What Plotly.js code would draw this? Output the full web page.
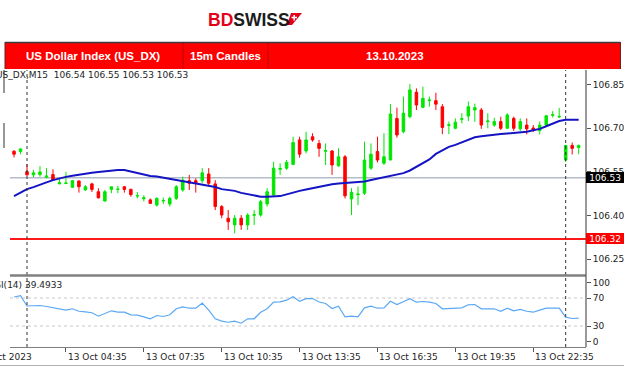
<!DOCTYPE html>
<html><head><meta charset="utf-8">
<script src="https://cdn.plot.ly/plotly-3.0.1.min.js"></script>
<style>html,body{margin:0;padding:0;background:#fff;overflow:hidden}#chart{width:624px;height:367px}</style>
</head><body><div id="chart"></div>
<script>
// ---- data ----
const open=[106.621,106.620,106.551,106.540,106.541,106.532,106.541,106.509,106.510,106.497,
106.519,106.488,106.509,106.482,106.450,106.490,106.490,106.499,106.490,106.467,
106.458,106.454,106.436,106.450,106.440,106.459,106.488,106.520,106.520,106.520,
106.543,106.509,106.431,106.391,106.368,106.391,106.368,106.401,106.402,106.440,
106.471,106.559,106.563,106.576,106.660,106.622,106.671,106.648,106.621,106.622,
106.571,106.602,106.457,106.472,106.477,106.563,106.620,106.580,106.591,106.734,
106.688,106.740,106.824,106.772,106.795,106.795,106.774,106.710,106.700,106.731,
106.742,106.763,106.763,106.723,106.711,106.723,106.700,106.734,106.698,106.711,
106.701,106.692,106.711,106.745,106.739,106.591,106.641,106.634];
const high=[106.625,106.631,106.577,106.557,106.570,106.563,106.559,106.527,106.550,106.522,
106.521,106.505,106.513,106.494,106.488,106.499,106.502,106.501,106.493,106.481,
106.470,106.459,106.463,106.462,106.465,106.505,106.534,106.540,106.528,106.563,
106.563,106.522,106.436,106.419,106.402,106.402,106.408,106.419,106.454,106.494,
106.585,106.580,106.591,106.671,106.671,106.688,106.683,106.660,106.648,106.625,
106.631,106.608,106.494,106.500,106.654,106.648,106.671,106.683,106.783,106.771,
106.809,106.852,106.837,106.843,106.809,106.822,106.783,106.723,106.734,106.752,
106.792,106.785,106.770,106.752,106.736,106.740,106.752,106.740,106.734,106.734,
106.711,106.723,106.746,106.759,106.770,106.643,106.651,106.644];
const low=[106.600,106.611,106.537,106.532,106.534,106.528,106.519,106.508,106.509,106.497,
106.479,106.486,106.481,106.459,106.448,106.477,106.477,106.479,106.465,106.459,
106.449,106.440,106.431,106.440,106.431,106.454,106.482,106.488,106.479,106.511,
106.502,106.419,106.391,106.351,106.339,106.351,106.351,106.368,106.396,106.431,
106.465,106.540,106.557,106.574,106.599,106.614,106.654,106.602,106.574,106.540,
106.568,106.459,106.402,106.436,106.471,106.557,106.583,106.574,106.591,106.668,
106.683,106.734,106.763,106.769,106.774,106.763,106.680,106.680,106.697,106.717,
106.725,106.722,106.698,106.700,106.705,106.694,106.698,106.691,106.691,106.679,
106.687,106.679,106.708,106.737,106.735,106.584,106.610,106.611];
const close=[106.611,106.629,106.540,106.547,106.550,106.536,106.522,106.513,106.512,106.520,
106.499,106.499,106.490,106.461,106.482,106.499,106.491,106.490,106.472,106.469,
106.461,106.442,106.459,106.452,106.459,106.499,106.522,106.511,106.511,106.547,
106.511,106.431,106.402,106.379,106.391,106.368,106.402,106.403,106.448,106.482,
106.563,106.562,106.583,106.651,106.611,106.660,106.660,106.631,106.623,106.574,
106.602,106.468,106.480,106.474,106.591,106.611,106.591,106.602,106.749,106.677,
106.752,106.832,106.780,106.803,106.797,106.783,106.703,106.712,106.721,106.733,
106.774,106.771,106.711,106.725,106.723,106.700,106.746,106.700,106.723,106.698,
106.694,106.711,106.743,106.747,106.741,106.641,106.631,106.641];
const ma=[106.467,106.479,106.491,106.498,106.505,106.514,106.522,106.528,106.533,106.537,
106.541,106.544,106.547,106.550,106.553,106.556,106.557,106.557,106.552,106.547,
106.541,106.536,106.534,106.530,106.526,106.523,106.520,106.516,106.512,106.507,
106.502,106.498,106.491,106.489,106.485,106.478,106.473,106.469,106.465,106.465,
106.465,106.467,106.473,106.480,106.485,106.490,106.495,106.500,106.504,106.508,
106.510,106.512,106.513,106.514,106.517,106.522,106.527,106.531,106.535,106.540,
106.546,106.555,106.568,106.579,106.593,106.612,106.623,106.636,106.643,106.652,
106.660,106.669,106.673,106.676,106.678,106.680,106.682,106.684,106.686,106.688,
106.693,106.698,106.707,106.715,106.725,106.729,106.729,106.729];
const rsi=[71.4,73.3,58.6,59.3,59.3,57.9,56.0,53.6,52.6,54.6,
51.1,50.3,48.9,44.0,47.4,51.7,49.7,49.7,46.0,45.4,
43.1,40.3,45.0,43.6,46.0,54.6,57.4,55.4,55.4,62.6,
52.6,40.3,36.9,35.4,36.9,34.0,40.3,40.3,49.7,54.6,
64.0,64.6,66.9,71.7,65.4,69.0,69.3,64.3,62.1,55.0,
58.3,43.1,44.0,43.1,56.0,58.3,55.4,56.0,65.4,60.7,
64.6,68.9,64.0,65.0,64.0,62.1,54.6,55.4,55.4,56.0,
60.3,60.7,54.6,54.6,54.6,51.1,55.4,51.7,53.6,51.1,
49.7,52.6,55.4,55.4,55.4,42.6,40.7,41.2];
const priceTicks=[106.25,106.40,106.55,106.70,106.85];
const rsiTickVals=[7.5,30,70,92];
const rsiTickText=['0','30','70','100'];
const rsiLevels=[30,70];
const bidLevel=106.53, redLevel=106.32;
const separators=[2,85];
const timeLabels=['13 Oct 2023','13 Oct 04:35','13 Oct 07:35','13 Oct 10:35','13 Oct 13:35','13 Oct 16:35','13 Oct 19:35','13 Oct 22:35'];
const timeLabelIdx=[-6.2,8,20,32,44,56,68,80];
const headerText='US_DX,M15\u00a0\u00a0106.54 106.55 106.53 106.53';
const rsiText='RSI(14)\u00a039.4933';

// ---- layout geometry ----
const W=624,H=367,ML=10,MR=38,MT=70,MB=20;
const PW=W-ML-MR, PH=H-MT-MB;
const px=x=>(x-ML)/PW, py=y=>(H-MB-y)/PH;
const xRange=[-0.62,88.13], yRange=[106.1959,106.9003];
const xp=i=>(i-xRange[0])/(xRange[1]-xRange[0]);
const idx=open.map((_,i)=>i);
const F='DejaVu Sans';

const traces=[
 {type:'candlestick',x:idx,open:open,high:high,low:low,close:close,xaxis:'x',yaxis:'y',
  increasing:{line:{color:'#00e600',width:1},fillcolor:'#00e600'},
  decreasing:{line:{color:'#ff0000',width:1},fillcolor:'#ff0000'},
  whiskerwidth:0,hoverinfo:'skip',showlegend:false},
 {type:'scatter',mode:'lines',x:idx,y:ma,xaxis:'x',yaxis:'y',line:{color:'#1414c4',width:2},hoverinfo:'skip',showlegend:false},
 {type:'scatter',mode:'lines',x:idx,y:rsi,xaxis:'x',yaxis:'y2',line:{color:'#5aa8f5',width:1.2},hoverinfo:'skip',showlegend:false}
];

const shapes=[];
const pline=(x0,y0,x1,y1,color,width,dash)=>shapes.push({type:'line',xref:'paper',yref:'paper',x0:px(x0),y0:py(y0),x1:px(x1),y1:py(y1),line:{color:color,width:width,dash:dash||'solid'}});
shapes.push({type:'line',xref:'x',yref:'y',x0:xRange[0],x1:xRange[1],y0:bidLevel,y1:bidLevel,layer:'below',line:{color:'#b4bccb',width:1.5}});
shapes.push({type:'line',xref:'x',yref:'y',x0:xRange[0],x1:xRange[1],y0:redLevel,y1:redLevel,layer:'below',line:{color:'#ff1a1a',width:2}});
rsiLevels.forEach(v=>shapes.push({type:'line',xref:'paper',yref:'y2',x0:0,x1:1,y0:v,y1:v,layer:'below',line:{color:'#c8c8c8',width:1,dash:'dot'}}));
separators.forEach(s=>shapes.push({type:'line',xref:'paper',yref:'paper',x0:xp(s),x1:xp(s),y0:0,y1:1,line:{color:'#333',width:1,dash:'dot'}}));
pline(10,275.5,586,275.5,'#808080',2.5);
pline(0,365.5,624,365.5,'#b0b0b0',1);
pline(586,70,586,347,'#555',1.2);
pline(4,70,4,93,'#333',1);
pline(4,123,4,148,'#333',1);
shapes.push({type:'rect',xref:'paper',yref:'paper',x0:px(5),x1:px(620),y0:py(69),y1:py(42),fillcolor:'#ff0000',line:{width:0}});
pline(5,42.5,620,42.5,'#3c3c3c',1.5);
pline(5,42,5,69,'#6a2020',1);
pline(620.5,42,620.5,69,'#6a2020',1);
pline(183,43,183,69,'#c00000',1);
pline(268,43,268,69,'#c00000',1);
shapes.push({type:'path',xref:'paper',yref:'paper',fillcolor:'#e3001b',line:{width:0},
 path:'M'+px(287)+','+py(25)+' L'+px(291)+','+py(13)+' L'+px(302)+','+py(13)+' L'+px(292)+','+py(25)+' Z'});
pline(291.5,17.5,297,17.5,'#fff',1.5);
pline(294.2,15,294.2,20.5,'#fff',1.5);

const annotations=[];
const pa=(x,y,text,opts)=>annotations.push(Object.assign({xref:'paper',yref:'paper',x:px(x),y:py(y),text:text,showarrow:false,xanchor:'center',yanchor:'middle',font:{family:F,size:9,color:'#1e1e1e'}},opts||{}));
pa(249,20,'<b><span style="color:#e3001b">BD</span>SWISS</b>',{font:{family:'Liberation Sans Narrow, Liberation Sans, Arial',size:17.5,color:'#1c1c1c'}});
const bf={family:'Liberation Sans, Arial',size:11.5,color:'#ffffff'};
pa(93,56.5,'<b>US Dollar Index (US_DX)</b>',{font:bf});
pa(225,56.5,'<b>15m Candles</b>',{font:bf});
pa(395,56.5,'<b>13.10.2023</b>',{font:bf});
pa(-6,75.5,headerText,{xanchor:'left'});
pa(-13,285,rsiText,{xanchor:'left'});
timeLabels.forEach((t,k)=>annotations.push({xref:'paper',yref:'paper',x:xp(timeLabelIdx[k]),y:py(356.5),text:t,showarrow:false,xanchor:'left',yanchor:'middle',font:{family:F,size:9,color:'#1e1e1e'}}));
annotations.push({xref:'paper',yref:'y',x:1,y:bidLevel,text:'\u00a0'+bidLevel.toFixed(2)+'\u00a0\u00a0',showarrow:false,xanchor:'left',yanchor:'middle',bgcolor:'#000000',borderpad:0.5,borderwidth:0,font:{family:F,size:9,color:'#ffffff'}});
annotations.push({xref:'paper',yref:'y',x:1,y:redLevel,text:'\u00a0'+redLevel.toFixed(2)+'\u00a0\u00a0',showarrow:false,xanchor:'left',yanchor:'middle',bgcolor:'#ff0000',borderpad:0.5,borderwidth:0,font:{family:F,size:9,color:'#ffffff'}});

const layout={
 width:W,height:H,margin:{l:ML,r:MR,t:MT,b:MB,pad:0},
 paper_bgcolor:'#ffffff',plot_bgcolor:'rgba(0,0,0,0)',showlegend:false,boxgap:0.45,
 xaxis:{domain:[0,1],range:xRange,anchor:'y2',showgrid:false,zeroline:false,showline:true,linecolor:'#808080',linewidth:1,
   ticks:'outside',ticklen:4,tickcolor:'#555',tickvals:timeLabelIdx.slice(1),showticklabels:false,rangeslider:{visible:false},fixedrange:true},
 yaxis:{domain:[py(275),1],range:yRange,side:'right',anchor:'x',showgrid:false,zeroline:false,showline:false,
   ticks:'outside',ticklen:4,tickcolor:'#555',tickvals:priceTicks,tickformat:'.2f',tickfont:{family:F,size:9,color:'#222'},fixedrange:true},
 yaxis2:{domain:[0,py(277)],range:[0,100],side:'right',anchor:'x',showgrid:false,zeroline:false,showline:false,
   ticks:'outside',ticklen:4,tickcolor:'#555',tickvals:rsiTickVals,ticktext:rsiTickText,tickfont:{family:F,size:9,color:'#222'},fixedrange:true},
 shapes:shapes,annotations:annotations
};
Plotly.newPlot('chart',traces,layout,{staticPlot:true,displayModeBar:false});
</script></body></html>
